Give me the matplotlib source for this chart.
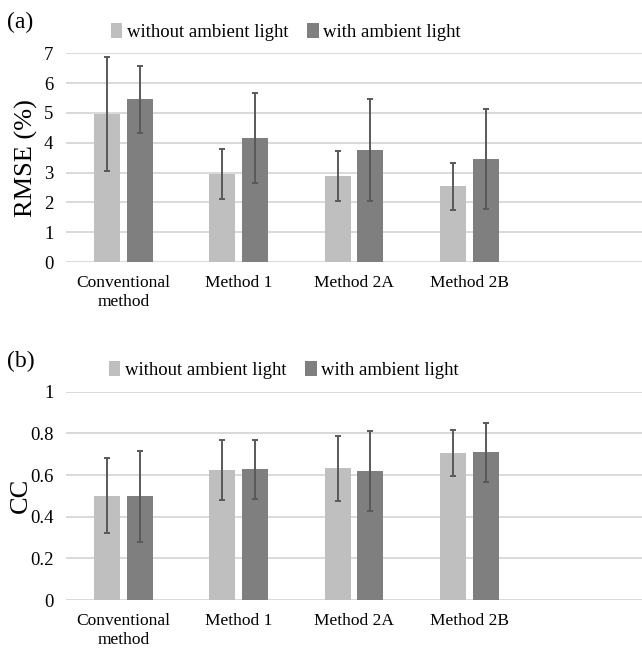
import numpy as np
import matplotlib
matplotlib.use('Agg')
import matplotlib.pyplot as plt

# Data
methods = ['Conventional\nmethod', 'Method 1', 'Method 2A', 'Method 2B']
series = ['without ambient light', 'with ambient light']

rmse_without = [4.97, 2.95, 2.87, 2.54]
rmse_without_err = [1.92, 0.83, 0.84, 0.78]
rmse_with = [5.45, 4.16, 3.75, 3.46]
rmse_with_err = [1.12, 1.50, 1.72, 1.67]

cc_without = [0.50, 0.623, 0.633, 0.705]
cc_without_err = [0.18, 0.145, 0.156, 0.112]
cc_with = [0.497, 0.627, 0.619, 0.709]
cc_with_err = [0.22, 0.142, 0.194, 0.143]

plt.rcParams['font.family'] = ['Liberation Serif', 'DejaVu Serif']

LIGHT = '#bfbfbf'
DARK = '#7f7f7f'
ERR = '#595959'
GRID = '#d9d9d9'


def draw_panel(ax, v1, e1, v2, e2, ymax, step, ylabel, label_x):
    x = np.arange(len(methods))
    w = 0.226
    off = 0.143
    kw = dict(ecolor=ERR, capsize=2.2, error_kw=dict(elinewidth=1.4, capthick=1.4), zorder=3)
    b1 = ax.bar(x - off, v1, w, yerr=e1, color=LIGHT, label=series[0], **kw)
    b2 = ax.bar(x + off, v2, w, yerr=e2, color=DARK, label=series[1], **kw)
    ax.set_xlim(-0.5, 4.5)
    ax.set_ylim(0, ymax)
    ticks = np.arange(0, ymax + step / 2, step)
    ax.set_yticks(ticks)
    ax.set_yticklabels([f'{t:g}' for t in ticks], fontsize=13.5)
    ax.set_xticks(x)
    ax.set_xticklabels(methods, fontsize=12.5, linespacing=1.3)
    ax.tick_params(length=0, pad=9)
    ax.tick_params(axis='x', pad=9)
    ax.grid(axis='y', color=GRID, linewidth=1.4, zorder=0)
    for s in ax.spines.values():
        s.set_visible(False)
    ax.set_ylabel(ylabel, fontsize=19, va='center')
    ax.yaxis.set_label_coords(label_x, 0.5)
    return b1, b2


fig = plt.figure(figsize=(6.42, 6.49), dpi=100)
ax1 = fig.add_axes([0.1028, 0.5963, 0.8972, 0.3216])
ax2 = fig.add_axes([0.1028, 0.0755, 0.8972, 0.3210])

h = draw_panel(ax1, rmse_without, rmse_without_err, rmse_with, rmse_with_err,
               7, 1, 'RMSE (%)', (26 - 66) / 576)
draw_panel(ax2, cc_without, cc_without_err, cc_with, cc_with_err,
           1, 0.2, 'CC', (21 - 66) / 576)

leg_kw = dict(loc='center', ncol=2, frameon=False, fontsize=13.5,
              handlelength=0.6, handleheight=0.9, handletextpad=0.25,
              columnspacing=1.0, borderpad=0)
fig.legend(h, series, bbox_to_anchor=(286 / 642, 1 - 32 / 649), **leg_kw)
fig.legend(h, series, bbox_to_anchor=(284 / 642, 1 - 370 / 649), **leg_kw)

fig.text(7 / 642, 1 - 22 / 649, '(a)', fontsize=17, va='center')
fig.text(7 / 642, 1 - 361 / 649, '(b)', fontsize=17, va='center')

fig.savefig('out.png', dpi=100)
